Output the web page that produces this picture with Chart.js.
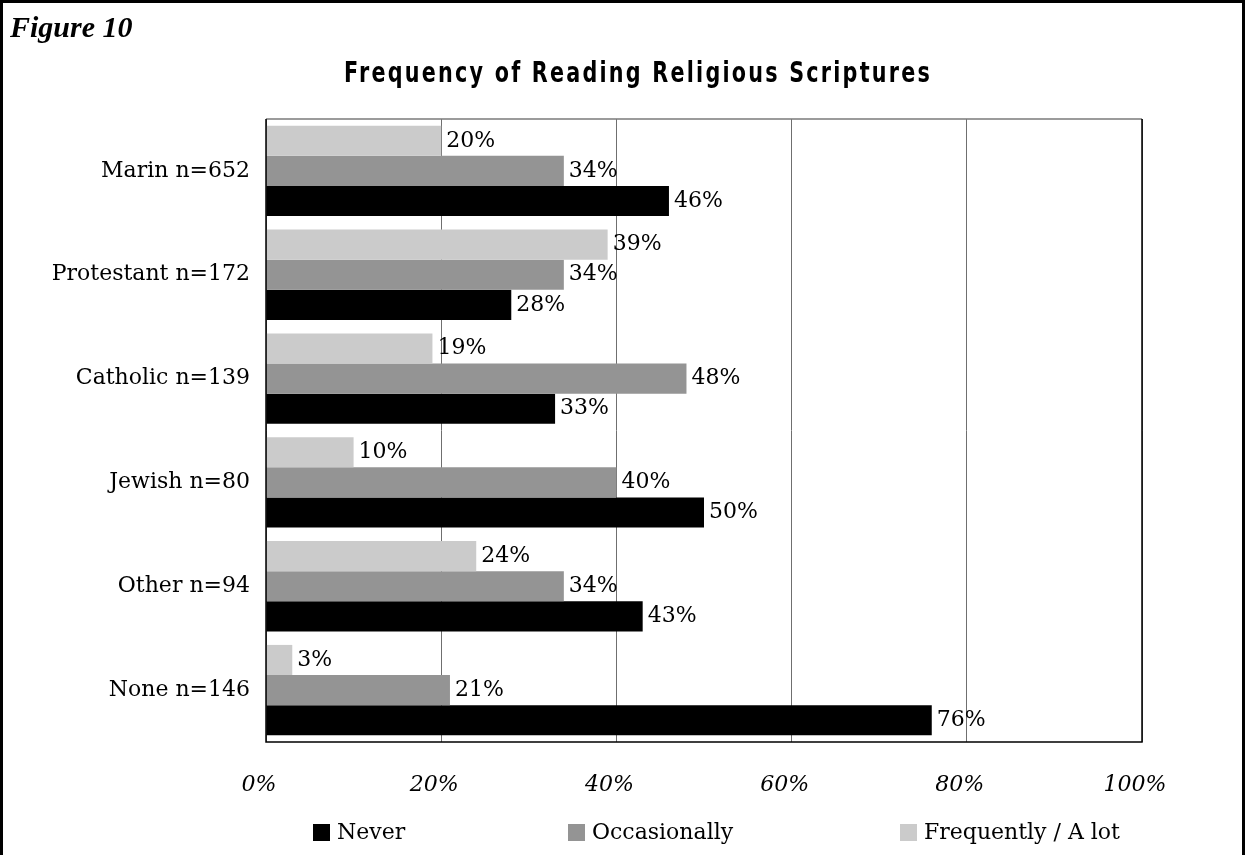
<!DOCTYPE html>
<html>
<head>
<meta charset="utf-8">
<script src="https://cdn.jsdelivr.net/npm/chart.js@4.4.0/dist/chart.umd.min.js"></script>
<style>
  html, body { margin: 0; padding: 0; background: #fff; }
  canvas { display: block; }
</style>
</head>
<body>
<canvas id="scriptChart" width="1246" height="855"></canvas>
<script>
const groups = ["Marin n=652", "Protestant n=172", "Catholic n=139", "Jewish n=80", "Other n=94", "None n=146"];
const frequently = [20, 39, 19, 10, 24, 3];
const occasionally = [34, 34, 48, 40, 34, 21];
const never = [46, 28, 33, 50, 43, 76];
const xTicks = [0, 20, 40, 60, 80, 100];

const SERIF = "'DejaVu Serif', 'Liberation Serif', serif";

// outer frame, figure number and heading
const headings = {
  id: "headings",
  beforeDraw(chart) {
    const ctx = chart.ctx;
    ctx.save();
    ctx.fillStyle = "#fff";
    ctx.fillRect(0, 0, chart.width, chart.height);
    ctx.strokeStyle = "#000";
    ctx.lineWidth = 3;
    ctx.beginPath();
    ctx.moveTo(1.5, chart.height + 5);
    ctx.lineTo(1.5, 1.5);
    ctx.lineTo(chart.width - 2.5, 1.5);
    ctx.lineTo(chart.width - 2.5, chart.height + 5);
    ctx.stroke();

    ctx.fillStyle = "#000";
    ctx.textBaseline = "alphabetic";
    ctx.textAlign = "left";
    ctx.font = "italic bold 30px 'Liberation Serif', serif";
    ctx.fillText("Figure 10", 10, 37);

    // narrow, spaced-out heading: squeeze the bold sans horizontally
    ctx.font = "bold 28px 'DejaVu Sans', sans-serif";
    ctx.letterSpacing = "3px";
    ctx.textAlign = "center";
    ctx.translate(638, 82);
    ctx.scale(0.74, 1);
    ctx.fillText("Frequency of Reading Religious Scriptures", 0, 0);
    ctx.restore();
  }
};

// percentage written just past the end of each bar
const valueLabels = {
  id: "valueLabels",
  afterDatasetsDraw(chart) {
    const ctx = chart.ctx;
    ctx.save();
    ctx.font = "22px " + SERIF;
    ctx.fillStyle = "#000";
    ctx.textAlign = "left";
    ctx.textBaseline = "middle";
    chart.data.datasets.forEach((ds, i) => {
      chart.getDatasetMeta(i).data.forEach((bar, j) => {
        ctx.fillText(ds.data[j] + "%", bar.x + 5, bar.y);
      });
    });
    ctx.restore();
  }
};

// box round the plot area
const plotBox = {
  id: "plotBox",
  afterDraw(chart) {
    const a = chart.chartArea;
    const ctx = chart.ctx;
    ctx.save();
    ctx.lineWidth = 1.5;
    ctx.strokeStyle = "#7a7a7a";
    ctx.beginPath();
    ctx.moveTo(a.left, a.top);
    ctx.lineTo(a.right, a.top);
    ctx.stroke();
    ctx.strokeStyle = "#000";
    ctx.beginPath();
    ctx.moveTo(a.right, a.top);
    ctx.lineTo(a.right, a.bottom);
    ctx.lineTo(a.left, a.bottom);
    ctx.lineTo(a.left, a.top);
    ctx.stroke();
    ctx.restore();
  }
};

// legend laid out wide across the bottom, Never first
const wideLegend = {
  id: "wideLegend",
  afterDraw(chart) {
    const ctx = chart.ctx;
    const boxX = [313, 568, 900];
    const y = 832;
    const order = [2, 1, 0];
    ctx.save();
    ctx.font = "22px " + SERIF;
    ctx.textAlign = "left";
    ctx.textBaseline = "middle";
    order.forEach((di, k) => {
      const ds = chart.data.datasets[di];
      ctx.fillStyle = ds.backgroundColor;
      ctx.fillRect(boxX[k], y - 8, 17, 17);
      ctx.fillStyle = "#000";
      ctx.fillText(ds.label, boxX[k] + 24, y + 1);
    });
    ctx.restore();
  }
};

new Chart(document.getElementById("scriptChart"), {
  type: "bar",
  data: {
    labels: groups,
    datasets: [
      { label: "Frequently / A lot", data: frequently, backgroundColor: "#cbcbcb" },
      { label: "Occasionally", data: occasionally, backgroundColor: "#949494" },
      { label: "Never", data: never, backgroundColor: "#000000" }
    ]
  },
  options: {
    indexAxis: "y",
    responsive: false,
    animation: false,
    datasets: {
      bar: { barPercentage: 1.0, categoryPercentage: 0.87, borderWidth: 0 }
    },
    layout: { padding: { top: 119, right: 104, bottom: 0, left: 0 } },
    plugins: {
      legend: { display: false },
      tooltip: { enabled: false }
    },
    scales: {
      x: {
        min: 0,
        max: 100,
        afterBuildTicks: (s) => { s.ticks = xTicks.map(v => ({ value: v })); },
        afterFit: (s) => { s.height = 113; },
        grid: { color: "#6f6f6f", lineWidth: 1, drawTicks: false },
        border: { display: false },
        ticks: {
          padding: 30,
          labelOffset: -7,
          color: "#000",
          font: { family: SERIF, style: "italic", size: 22 },
          callback: (v) => v + "%"
        }
      },
      y: {
        afterFit: (s) => { s.width = 266; },
        grid: { display: false, drawTicks: false },
        border: { display: false },
        ticks: {
          padding: 16,
          color: "#000",
          font: { family: SERIF, size: 22 }
        }
      }
    }
  },
  plugins: [headings, valueLabels, plotBox, wideLegend]
});
</script>
</body>
</html>
